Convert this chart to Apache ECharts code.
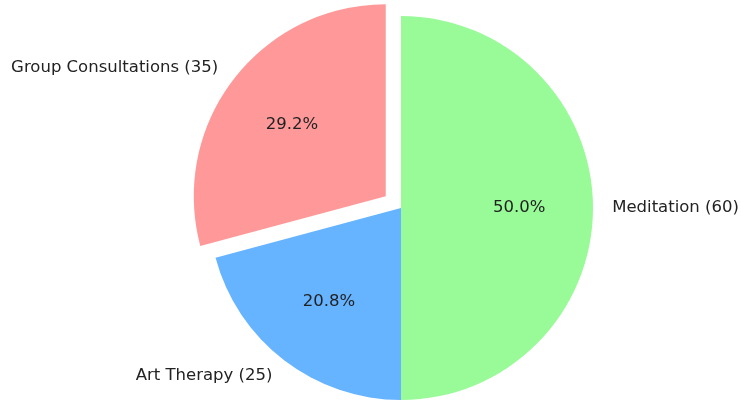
<!DOCTYPE html>
<html>
<head>
<meta charset="utf-8">
<script src="https://cdn.jsdelivr.net/npm/echarts@6/dist/echarts.min.js"></script>
<style>
  html, body { margin: 0; padding: 0; background: #ffffff; }
  #chart { width: 741px; height: 403px; }
</style>
</head>
<body>
<div id="chart"></div>
<script>
// Session counts per activity
const categories = ['Meditation', 'Art Therapy', 'Group Consultations'];
const values = [60, 25, 35];
const colors = ['#98fb98', '#66b3ff', '#ff9999'];
const exploded = [false, false, true];

const R = 192;
const center = [401, 208];
const FONT = 'DejaVu Sans';
const FONT_SIZE = 16.5;

const total = values.reduce((a, b) => a + b, 0);

const pieData = categories.map((name, i) => ({
  name: name,
  value: values[i],
  selected: exploded[i],
  itemStyle: { color: colors[i] }
}));

const labelData = categories.map((name, i) => ({
  name: name,
  value: values[i],
  selected: exploded[i]
}));

const chart = echarts.init(document.getElementById('chart'), null, { renderer: 'canvas' });

chart.setOption({
  animation: false,
  backgroundColor: '#ffffff',
  series: [
    {
      type: 'pie',
      center: center,
      radius: [0, R],
      startAngle: 90,
      clockwise: true,
      selectedMode: 'multiple',
      selectedOffset: R * 0.1,
      avoidLabelOverlap: false,
      silent: true,
      emphasis: { disabled: true },
      itemStyle: { borderWidth: 0 },
      label: {
        show: true,
        position: 'outside',
        formatter: p => `${p.name} (${p.value})`,
        fontFamily: FONT,
        fontSize: FONT_SIZE,
        color: '#222222',
        distanceToLabelLine: 0,
        padding: [3, 0, 0, 0]
      },
      labelLine: { show: false, length: R * 0.1, length2: 0 },
      data: pieData
    },
    {
      // transparent ring that carries the percentage labels at 0.6 R
      type: 'pie',
      center: center,
      radius: [R * 0.2, R],
      startAngle: 90,
      clockwise: true,
      selectedMode: 'multiple',
      selectedOffset: R * 0.1,
      avoidLabelOverlap: false,
      silent: true,
      emphasis: { disabled: true },
      itemStyle: { color: 'rgba(0,0,0,0)', borderWidth: 0 },
      label: {
        show: true,
        position: 'inside',
        formatter: p => (p.value / total * 100).toFixed(1) + '%',
        fontFamily: FONT,
        fontSize: FONT_SIZE,
        color: '#222222',
        padding: [3, 0, 0, 0]
      },
      labelLine: { show: false },
      data: labelData
    }
  ]
});
</script>
</body>
</html>
